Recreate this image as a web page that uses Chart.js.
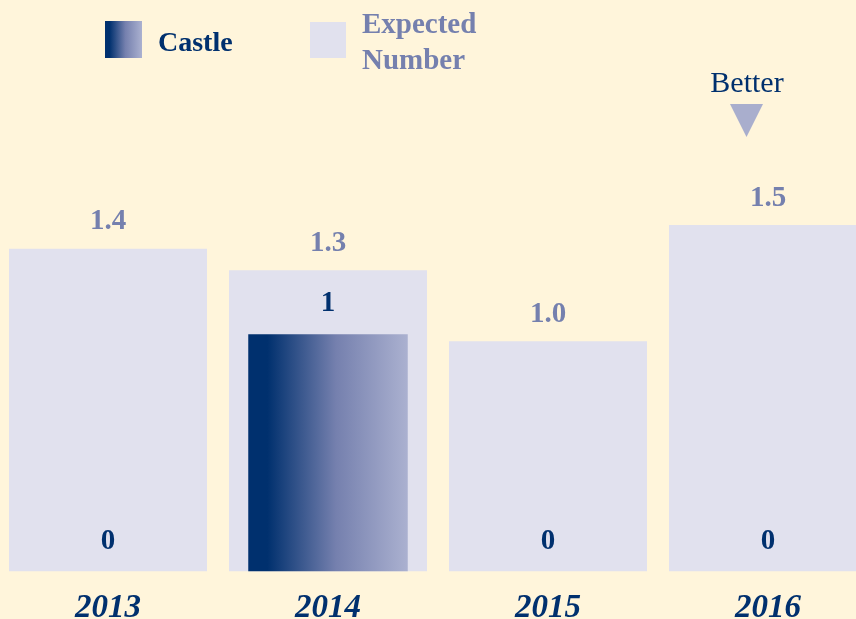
<!DOCTYPE html>
<html>
<head>
<meta charset="utf-8">
<script src="https://cdn.jsdelivr.net/npm/chart.js@4"></script>
<style>
  html, body { margin: 0; padding: 0; background: #FFF5DB; overflow: hidden; }
  #wrap { position: relative; width: 856px; height: 619px; overflow: hidden; }
  #grafico { position: absolute; left: -2px; top: 0; }
</style>
</head>
<body>
<div id="wrap"><canvas id="grafico" width="880" height="645"></canvas></div>
<script>
// dati
const anni = ["2013", "2014", "2015", "2016"];
const castle = [0, 1, 0, 0];
const attesi = [1.36, 1.27, 0.97, 1.46];

const NAVY = "#00306E";
const CHIARO = "#E1E1EE";
const LILLA = "#7580AE";
const FONT = "'Liberation Serif', 'Times New Roman', serif";

// gradiente orizzontale per la barra Castle
function gradiente(ctx, x0, x1) {
    let g = ctx.createLinearGradient(x0, 0, x1, 0);
    g.addColorStop(0, NAVY);
    g.addColorStop(0.12, NAVY);
    g.addColorStop(0.55, "#7580AE");
    g.addColorStop(1, "#ABB1D0");
    return g;
}

// colore scriptable: usa la scala x per trovare i bordi della barra
function coloreCastle(c) {
    const sx = c.chart.scales.x;
    if (!sx || c.dataIndex === undefined) return NAVY;
    const cx = sx.getPixelForValue(c.dataIndex);
    const w = (sx.width / anni.length) * 0.725;
    if (!isFinite(cx) || !isFinite(w) || w <= 0) return NAVY;
    return gradiente(c.chart.ctx, cx - w / 2, cx + w / 2);
}

// etichette sopra le barre, legenda e freccia "Better"
const extra = {
    id: "extra",
    afterDatasetsDraw(chart) {
        const ctx = chart.ctx;
        ctx.save();
        ctx.textAlign = "center";
        ctx.textBaseline = "middle";

        let metaAttesi = chart.getDatasetMeta(1);
        metaAttesi.data.forEach((bar, i) => {
            ctx.fillStyle = LILLA;
            ctx.font = "bold 29px " + FONT;
            ctx.fillText(attesi[i].toFixed(1), bar.x, bar.y - 27);
        });

        let metaCastle = chart.getDatasetMeta(0);
        metaCastle.data.forEach((bar, i) => {
            ctx.fillStyle = NAVY;
            ctx.font = "bold 29px " + FONT;
            if (castle[i] === 0) {
                ctx.fillText("0", bar.x, bar.y - 30);
            } else {
                ctx.fillText(String(castle[i]), bar.x, bar.y - 31);
            }
        });

        // legenda (coordinate relative alla pagina, canvas spostato di 2px)
        const dx = 2;
        ctx.fillStyle = gradiente(ctx, 105 + dx, 142 + dx);
        ctx.fillRect(105 + dx, 21, 37, 37);
        ctx.fillStyle = CHIARO;
        ctx.fillRect(310 + dx, 22, 36, 36);

        ctx.textAlign = "left";
        ctx.font = "bold 28px " + FONT;
        ctx.fillStyle = NAVY;
        ctx.fillText("Castle", 158 + dx, 44);
        ctx.fillStyle = LILLA;
        ctx.font = "bold 29px " + FONT;
        ctx.fillText("Expected", 362 + dx, 26);
        ctx.fillText("Number", 362 + dx, 62);

        // Better
        ctx.textAlign = "center";
        ctx.font = "30px " + FONT;
        ctx.fillStyle = NAVY;
        ctx.fillText("Better", 747 + dx, 84);
        ctx.fillStyle = "#A9AECD";
        ctx.beginPath();
        ctx.moveTo(730 + dx, 104);
        ctx.lineTo(763 + dx, 104);
        ctx.lineTo(746.5 + dx, 137);
        ctx.closePath();
        ctx.fill();

        ctx.restore();
    }
};

new Chart(document.getElementById("grafico"), {
    type: "bar",
    data: {
        labels: anni,
        datasets: [
            {
                label: "Castle",
                data: castle,
                backgroundColor: coloreCastle,
                barPercentage: 0.725,
                categoryPercentage: 1,
                grouped: false,
                order: 0
            },
            {
                label: "Expected Number",
                data: attesi,
                backgroundColor: CHIARO,
                barPercentage: 0.9,
                categoryPercentage: 1,
                grouped: false,
                order: 1
            }
        ]
    },
    options: {
        responsive: false,
        animation: false,
        layout: { padding: { top: 97, left: 0, right: 0, bottom: 0 } },
        plugins: {
            legend: { display: false },
            tooltip: { enabled: false }
        },
        scales: {
            x: {
                grid: { display: false, drawTicks: false },
                border: { display: false },
                ticks: {
                    color: NAVY,
                    padding: 17,
                    font: { family: FONT, size: 33, style: "italic", weight: "bold" }
                }
            },
            y: {
                display: false,
                min: 0,
                max: 2
            }
        }
    },
    plugins: [extra]
});
</script>
</body>
</html>
